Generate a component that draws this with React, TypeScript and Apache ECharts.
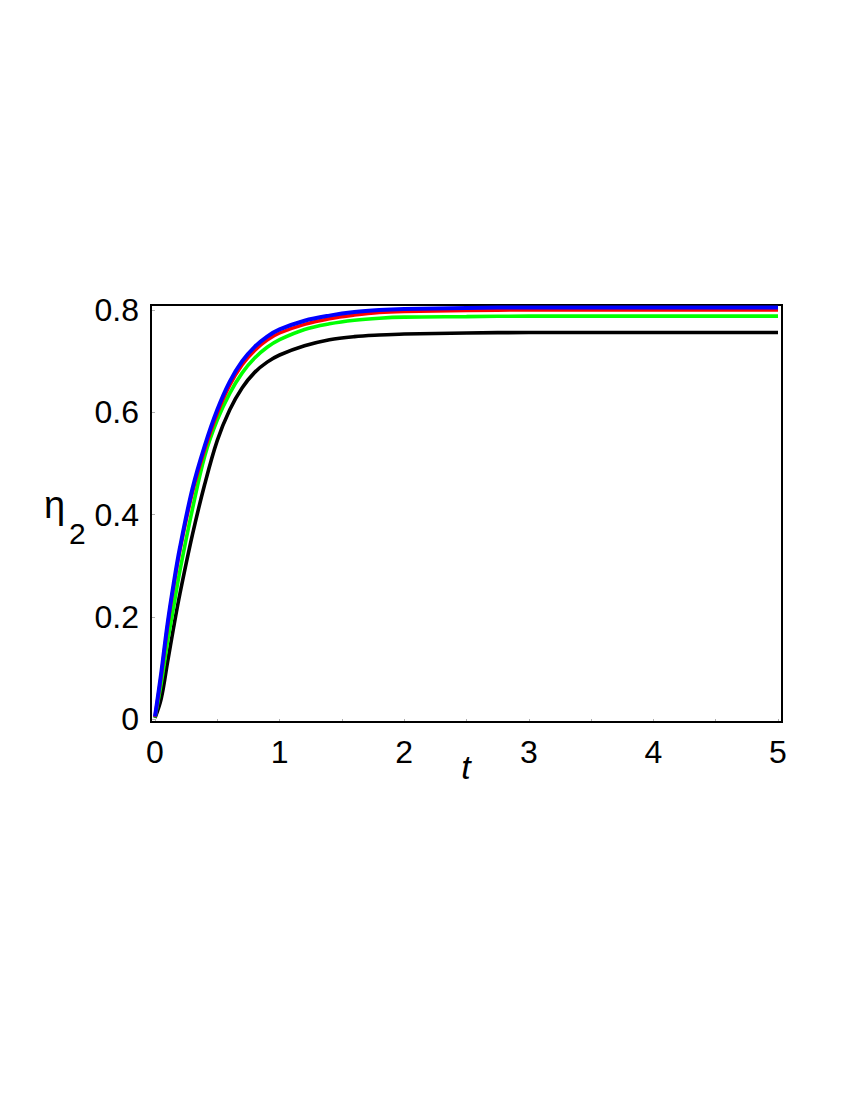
import React, { useEffect, useRef } from "react";
import * as echarts from "echarts";

const tValues = [0, 0.05, 0.1, 0.15, 0.2, 0.3, 0.4, 0.5, 0.6, 0.7, 0.8, 0.9, 1.0, 1.2, 1.4, 1.6, 1.8, 2.0, 2.5, 3, 4, 5];
const blueValues = [0.005, 0.09, 0.185, 0.265, 0.335, 0.45, 0.535, 0.605, 0.66, 0.7, 0.728, 0.748, 0.762, 0.779, 0.789, 0.796, 0.8, 0.802, 0.804, 0.805, 0.805, 0.805];
const redValues = [0.004, 0.085, 0.18, 0.26, 0.33, 0.443, 0.528, 0.598, 0.653, 0.693, 0.721, 0.741, 0.755, 0.772, 0.783, 0.79, 0.795, 0.797, 0.799, 0.8, 0.8, 0.8];
const greenValues = [0.003, 0.07, 0.15, 0.22, 0.29, 0.41, 0.515, 0.585, 0.637, 0.677, 0.706, 0.727, 0.742, 0.762, 0.773, 0.78, 0.784, 0.786, 0.787, 0.788, 0.788, 0.788];
const blackValues = [0.002, 0.04, 0.11, 0.18, 0.245, 0.36, 0.46, 0.545, 0.605, 0.648, 0.678, 0.698, 0.712, 0.73, 0.742, 0.748, 0.751, 0.753, 0.755, 0.756, 0.756, 0.756];
const xTicks = [0, 1, 2, 3, 4, 5];
const yTicks = [0, 0.2, 0.4, 0.6, 0.8];

const pairs = (ys: number[]) => tValues.map((t, i) => [t, ys[i]]);

export default function App() {
  const ref = useRef<HTMLDivElement>(null);
  useEffect(() => {
    if (!ref.current) return;
    const chart = echarts.init(ref.current, null, { renderer: "svg" });
    const font = "'Liberation Sans', Arial, sans-serif";
    const mkLine = (name: string, color: string, data: number[], width: number, z: number) => ({
      name,
      type: "line",
      data: pairs(data),
      showSymbol: false,
      smooth: 0.35,
      clip: false,
      z,
      lineStyle: { color, width },
    });
    chart.setOption({
      animation: false,
      backgroundColor: "#ffffff",
      grid: { left: 155, right: 72, top: 310, bottom: 381 },
      xAxis: {
        type: "value",
        min: xTicks[0],
        max: xTicks[xTicks.length - 1],
        interval: 1,
        offset: 3,
        axisLine: { show: false },
        axisTick: { show: true, length: 4, lineStyle: { color: "#b0b0b0", width: 1 } },
        minorTick: { show: true, splitNumber: 2, length: 4, lineStyle: { color: "#b0b0b0", width: 1 } },
        splitLine: { show: false },
        axisLabel: { color: "#000", fontSize: 32, fontFamily: font, margin: 14 },
      },
      yAxis: {
        type: "value",
        min: yTicks[0],
        max: yTicks[yTicks.length - 1],
        interval: 0.2,
        offset: 4,
        axisLine: { show: false },
        axisTick: { show: true, length: 4, lineStyle: { color: "#b0b0b0", width: 1 } },
        splitLine: { show: false },
        axisLabel: {
          color: "#000",
          fontSize: 32,
          fontFamily: font,
          margin: 12,
          formatter: (v: number) => (v === 0 ? "0" : v.toFixed(1)),
        },
      },
      graphic: [
        {
          type: "rect",
          shape: { x: 151, y: 305, width: 631, height: 417 },
          style: { fill: "none", stroke: "#000", lineWidth: 2 },
          z: 1,
        },
        {
          type: "text",
          x: 466,
          y: 767,
          style: { text: "t", font: `italic 34px ${font}`, fill: "#000", textAlign: "center", textVerticalAlign: "middle" },
        },
        {
          type: "text",
          x: 44,
          y: 505,
          style: { text: "η", font: `38px ${font}`, fill: "#000", textAlign: "left", textVerticalAlign: "middle" },
        },
        {
          type: "text",
          x: 69,
          y: 533,
          style: { text: "2", font: `30px ${font}`, fill: "#000", textAlign: "left", textVerticalAlign: "middle" },
        },
      ],
      series: [
        mkLine("black", "#000000", blackValues, 3.6, 3),
        mkLine("green", "#00ff00", greenValues, 3.6, 4),
        mkLine("red", "#ff0000", redValues, 3.5, 5),
        mkLine("blue", "#0000ff", blueValues, 4, 6),
      ],
    });
    return () => chart.dispose();
  }, []);
  return <div ref={ref} style={{ position: "absolute", left: 0, top: 0, width: 850, height: 1100 }} />;
}
